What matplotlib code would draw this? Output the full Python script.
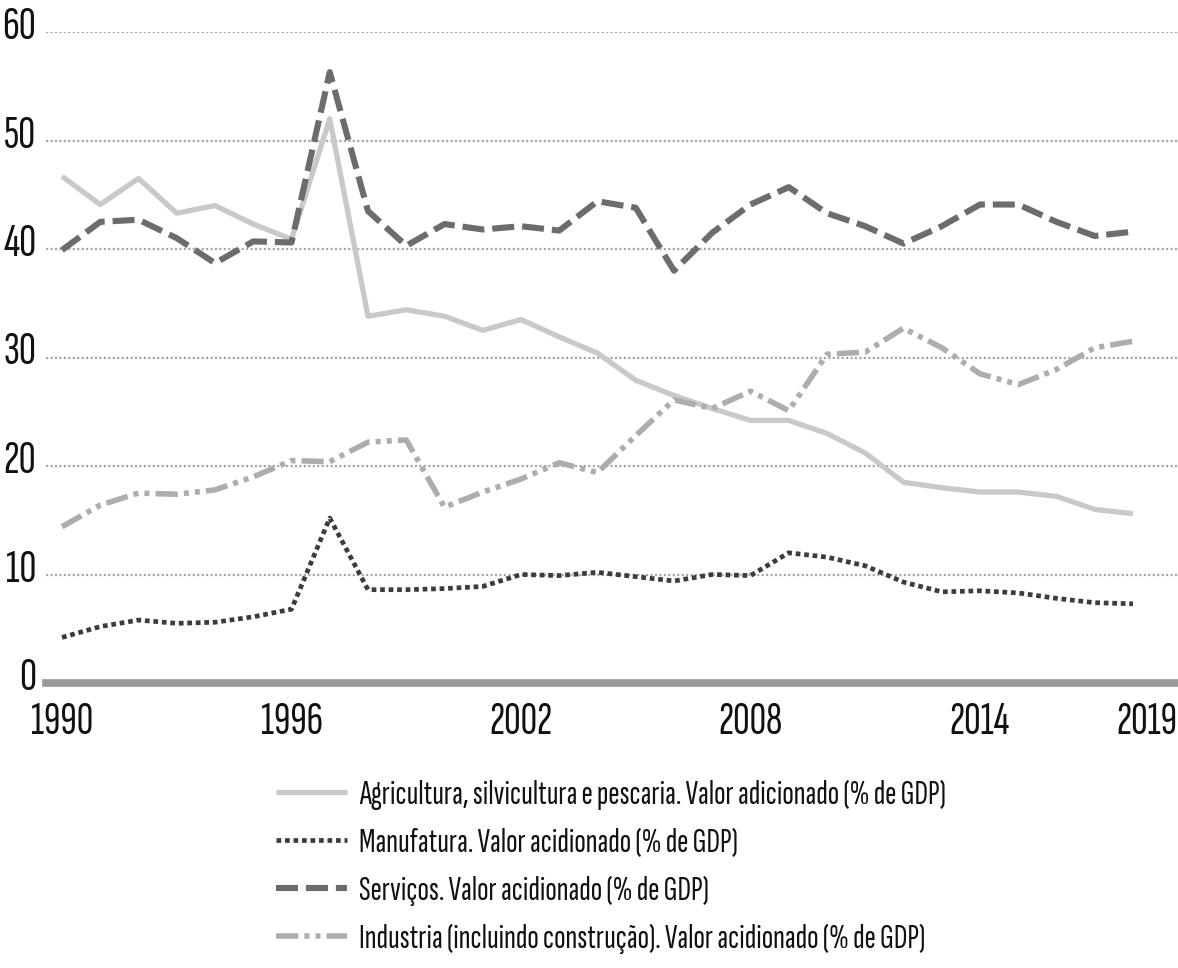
import matplotlib
matplotlib.use("Agg")
import matplotlib.pyplot as plt
from matplotlib.transforms import ScaledTranslation
import numpy as np

# ---- data ----
years = list(range(1990, 2019))
agriculture = [46.7, 44.1, 46.5, 43.3, 44.0, 42.3, 40.9, 52.0, 33.8, 34.4,
               33.8, 32.5, 33.5, 31.9, 30.4, 27.9, 26.5, 25.3, 24.2, 24.2,
               23.0, 21.2, 18.5, 18.0, 17.6, 17.6, 17.2, 16.0, 15.6]
manufacturing = [4.2, 5.2, 5.8, 5.5, 5.6, 6.1, 6.8, 15.2, 8.6, 8.6,
                 8.7, 8.9, 10.0, 9.9, 10.2, 9.8, 9.4, 10.0, 9.9, 12.0,
                 11.6, 10.8, 9.3, 8.4, 8.5, 8.3, 7.8, 7.4, 7.3]
services = [39.9, 42.5, 42.7, 41.0, 38.7, 40.7, 40.6, 56.3, 43.5, 40.3,
            42.3, 41.8, 42.1, 41.7, 44.4, 43.8, 38.0, 41.5, 44.1, 45.7,
            43.3, 42.1, 40.5, 42.1, 44.1, 44.1, 42.5, 41.2, 41.6]
industry = [14.4, 16.4, 17.5, 17.4, 17.8, 19.0, 20.5, 20.4, 22.2, 22.4,
            16.2, 17.6, 18.8, 20.3, 19.4, 22.8, 26.1, 25.3, 26.9, 25.1,
            30.3, 30.5, 32.7, 30.9, 28.5, 27.5, 28.9, 30.9, 31.5]

labels = [
    "Agricultura, silvicultura e pescaria. Valor adicionado (% de GDP)",
    "Manufatura. Valor acidionado (% de GDP)",
    "Serviços. Valor acidionado (% de GDP)",
    "Industria (incluindo construção). Valor acidionado (% de GDP)",
]
xtick_years = [1990, 1996, 2002, 2008, 2014, 2019]
xtick_labels = ["1990", "1996", "2002", "2008", "2014", "2019"]
ytick_values = [0, 10, 20, 30, 40, 50, 60]

FONT = ['Sofia Sans Extra Condensed', 'Asap Condensed', 'Liberation Sans Narrow', 'DejaVu Sans']
plt.rcParams['font.family'] = FONT

W, H = 1178, 968
fig = plt.figure(figsize=(W / 100, H / 100), dpi=100)
ax = fig.add_axes([46 / W, 1 - 683 / H, 1 - 46 / W, (683 - 32) / H])

ax.plot(years, agriculture, color='#c9c9c9', lw=3.8, solid_capstyle='butt',
        label=labels[0], zorder=3)
ax.plot(years, manufacturing, color='#3c3c3c', lw=3.4,
        linestyle=(0, (1.0, 0.8)), dash_capstyle='butt', label=labels[1], zorder=4)
ax.plot(years, services, color='#6c6c6c', lw=4.4,
        linestyle=(0, (3.6, 1.3)), dash_capstyle='butt', label=labels[2], zorder=4)
ax.plot(years, industry, color='#adadad', lw=4.0,
        linestyle=(0, (4.0, 1.1, 0.9, 1.1, 0.9, 1.1)), dash_capstyle='butt',
        label=labels[3], zorder=3)

ax.set_xlim(1990 - 16 / 38.25, 1990 + (W - 62) / 38.25)
ax.set_ylim(0, 60)

for s in ax.spines.values():
    s.set_visible(False)
ax.axhline(0, color='#9a9a9a', lw=5.5, zorder=5, clip_on=False)
ax.set_yticks(ytick_values)
ax.yaxis.grid(True, color='#a8a8a8', linestyle=(0, (1, 1)), lw=1.6)
ax.set_axisbelow(True)
ax.tick_params(axis='y', length=0, labelsize=34, colors='#111111', pad=7)
ax.tick_params(axis='x', length=0, labelsize=33, colors='#111111', pad=14)
ax.set_xticks(xtick_years)
ax.set_xticklabels(xtick_labels)

off_y = ScaledTranslation(0, 9 / 100, fig.dpi_scale_trans)
for lab in ax.get_yticklabels():
    lab.set_transform(lab.get_transform() + off_y)
xl = ax.get_xticklabels()
xl[-1].set_horizontalalignment('right')
xl[-1].set_transform(xl[-1].get_transform() + ScaledTranslation(6 / 100, 0, fig.dpi_scale_trans))

leg = fig.legend(loc='upper left', bbox_to_anchor=(276 / W, 1 - 780 / H),
                 frameon=False, fontsize=24.5, handlelength=2.1,
                 handletextpad=0.35, labelspacing=0.52, borderaxespad=0,
                 borderpad=0)
for t in leg.get_texts():
    t.set_color('#111111')

fig.savefig("out.png", dpi=100)
